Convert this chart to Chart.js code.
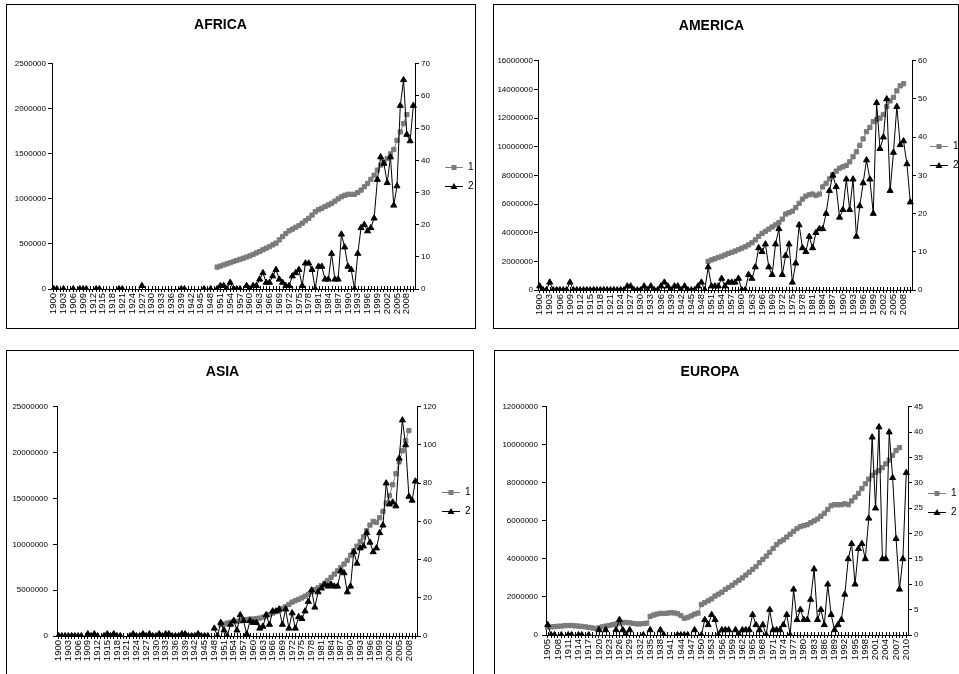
<!DOCTYPE html>
<html>
<head>
<meta charset="utf-8">
<script src="https://cdn.jsdelivr.net/npm/chart.js@4.4.1/dist/chart.umd.min.js"></script>
<style>
  body { margin: 0; width: 959px; height: 674px; overflow: hidden; background: #fff; position: relative; }
  .panel { position: absolute; border: 1px solid #000; background: #fff; }
  .panel canvas { display: block; }
</style>
</head>
<body>
<div class="panel" style="left:6px;top:4px;width:468px;height:323px"><canvas id="africa" width="468" height="323"></canvas></div>
<div class="panel" style="left:493px;top:4px;width:464px;height:323px"><canvas id="america" width="464" height="323"></canvas></div>
<div class="panel" style="left:6px;top:350px;width:466px;height:330px"><canvas id="asia" width="466" height="323"></canvas></div>
<div class="panel" style="left:494px;top:350px;width:466px;height:330px"><canvas id="europa" width="466" height="323"></canvas></div>
<script>
const FONT = "'Liberation Sans', Arial, sans-serif";
const GRAY = '#7b7b7b';

function yearsFrom(a, b) {
  const out = [];
  for (let y = a; y <= b; y++) out.push(String(y));
  return out;
}
// put a series that starts at `start` onto the year axis
function alignTo(years, start, values) {
  return years.map(y => {
    const i = +y - start;
    return i >= 0 && i < values.length ? values[i] : null;
  });
}

// ---- AFRICA ----
const africaYears = yearsFrom(1900, 2010);
const africaS1 = [ // 1950-2008
  243000, 255000, 267000, 280000, 292000, 305000, 317000, 330000, 342000, 355000,
  368000, 384000, 400000, 416000, 435000, 453000, 470000, 490000, 509000, 545000,
  582000, 615000, 645000, 665000, 685000, 703000, 730000, 758000, 785000, 820000,
  858000, 880000, 896000, 915000, 933000, 951000, 975000, 1000000, 1024000, 1040000,
  1051000, 1051000, 1051000, 1070000, 1098000, 1135000, 1172000, 1218000, 1264000, 1320000,
  1375000, 1412000, 1449000, 1500000, 1549000, 1650000, 1743000, 1836000, 1936000
];
const africaS2 = [ // 1900-2010
  0, 0, null, 0, null, null, 0, null, 0, 0,
  0, null, null, 0, 0, null, null, null, null, null,
  0, 0, null, null, null, null, null, 1, null, null,
  null, null, null, null, null, null, null, null, null, 0,
  0, null, null, null, null, null, 0, null, 0, null,
  0, 1, 1, 0, 2, 0, 0, 0, null, 1,
  0, 1, 1, 3, 5, 2, 2, 4, 6, 3,
  2, 1, 1, 4, 5, 6, 1, 8, 8, 6,
  0, 7, 7, 3, 3, 11, 3, 3, 17, 13,
  7, 6, 0, 11, 19, 20, 18, 19, 22, 34,
  41, 39, 33, 41, 26, 32, 57, 65, 48, 46,
  57
];

// ---- AMERICA ----
const americaYears = yearsFrom(1900, 2010);
const americaS1 = [ // 1950-2008
  2000000, 2100000, 2180000, 2270000, 2350000, 2450000, 2550000, 2630000, 2720000, 2820000,
  2920000, 3020000, 3150000, 3300000, 3500000, 3750000, 3950000, 4100000, 4250000, 4400000,
  4550000, 4700000, 4950000, 5300000, 5400000, 5500000, 5750000, 6050000, 6350000, 6550000,
  6650000, 6700000, 6600000, 6700000, 7200000, 7450000, 7750000, 8050000, 8300000, 8500000,
  8600000, 8700000, 8950000, 9300000, 9650000, 10100000, 10550000, 11050000, 11350000, 11750000,
  11900000, 12000000, 12250000, 12800000, 13200000, 13450000, 13900000, 14250000, 14400000
];
const americaS2 = [ // 1900-2010
  1, 0, 0, 2, 0, 0, 0, 0, 0, 2,
  0, 0, 0, 0, 0, 0, 0, 0, 0, 0,
  0, 0, 0, 0, 0, 0, 1, 1, 0, 0,
  0, 1, 0, 1, 0, 0, 1, 2, 1, 0,
  1, 1, 0, 1, 0, 0, 0, 1, 2, 0,
  6, 1, 1, 1, 3, 1, 2, 2, 2, 3,
  0, 0, 4, 3, 6, 11, 10, 12, 6, 4,
  12, 16, 4, 9, 12, 2, 7, 17, 11, 10,
  14, 11, 15, 16, 16, 20, 26, 30, 27, 19,
  21, 29, 21, 29, 14, 22, 28, 34, 29, 20,
  49, 37, 40, 50, 26, 36, 48, 38, 39, 33,
  23
];

// ---- ASIA ----
const asiaYears = yearsFrom(1900, 2010);
const asiaS1 = [ // 1950-2008
  1250000, 1300000, 1400000, 1500000, 1550000, 1600000, 1650000, 1750000, 1800000, 1850000,
  1850000, 1900000, 1950000, 2050000, 2200000, 2350000, 2500000, 2650000, 2800000, 3000000,
  3200000, 3450000, 3700000, 3850000, 4000000, 4150000, 4350000, 4550000, 4800000, 5050000,
  5250000, 5500000, 5750000, 6050000, 6400000, 6750000, 7100000, 7450000, 7850000, 8250000,
  8800000, 9300000, 9800000, 10300000, 10800000, 11500000, 12100000, 12500000, 12400000, 12900000,
  13600000, 14500000, 15300000, 16500000, 17700000, 19000000, 20200000, 21300000, 22400000
];
const asiaS2 = [ // 1900-2010
  0, 0, 0, 0, 0, 0, 0, 0, null, 1,
  0, 1, 0, null, 0, 1, 0, 1, 0, 0,
  null, null, 0, 1, 0, 0, 1, 0, 1, 0,
  0, 1, 0, 1, 1, 0, 0, 0, 1, 1,
  0, 0, 0, 1, 0, 0, 0, null, 4, 0,
  7, 3, 0, 6, 8, 3, 11, 8, 1, 8,
  7, 7, 4, 5, 11, 6, 13, 13, 14, 6,
  14, 4, 12, 4, 10, 9, 13, 18, 24, 15,
  23, 25, 27, 26, 27, 26, 26, 34, 33, 23,
  26, 44, 38, 46, 47, 54, 49, 44, 46, 54,
  58, 80, 69, 70, 68, 93, 113, 100, 73, 71,
  81
];

// ---- EUROPA ----
const europaYears = yearsFrom(1905, 2010);
const europaS1 = [ // 1905-2008
  420000, 430000, 440000, 460000, 470000,
  490000, 500000, 500000, 480000, 470000, 450000, 430000, 400000, 370000, 340000,
  380000, 430000, 470000, 500000, 540000, 580000, 620000, 650000, 660000, 640000,
  610000, 580000, 580000, 600000, 620000, 980000, 1050000, 1100000, 1140000, 1130000,
  1150000, 1170000, 1160000, 1120000, 1020000, 880000, 930000, 1000000, 1100000, 1150000,
  1600000, 1700000, 1800000, 1900000, 2050000, 2150000, 2250000, 2400000, 2500000, 2620000,
  2750000, 2880000, 3000000, 3150000, 3300000, 3450000, 3600000, 3800000, 3980000, 4150000,
  4350000, 4550000, 4750000, 4900000, 5000000, 5150000, 5300000, 5450000, 5600000, 5700000,
  5750000, 5800000, 5900000, 6000000, 6100000, 6250000, 6400000, 6600000, 6800000, 6850000,
  6850000, 6850000, 6900000, 6850000, 7050000, 7250000, 7450000, 7700000, 7950000, 8200000,
  8400000, 8550000, 8650000, 8800000, 9000000, 9200000, 9450000, 9700000, 9850000
];
const europaS2 = [ // 1905-2010
  2, 0, 0, null, 0,
  null, 0, 0, null, 0, 0, null, 0, null, null,
  1, null, 1, null, null, 1, 3, 1, 0, 1,
  null, null, null, 0, null, 1, null, null, 1, 0,
  null, null, null, 0, 0, 0, 0, null, 1, null,
  0, 3, 2, 4, 3, 0, 1, 1, 1, null,
  1, 0, 1, 1, 1, 4, 2, 1, 2, 0,
  5, 1, 1, 1, 2, 4, 0, 9, 3, 5,
  3, 3, 7, 13, 3, 5, 2, 10, 4, 1,
  2, 3, 8, 15, 18, 10, 17, 18, 15, 23,
  39, 25, 41, 15, 15, 40, 31, 19, 9, 15,
  32
];

// small inner tick marks on the category axis
const innerTicks = {
  id: 'innerTicks',
  afterDatasetsDraw(chart) {
    const s = chart.scales.x, ctx = chart.ctx;
    ctx.save();
    ctx.strokeStyle = '#000';
    ctx.lineWidth = 1;
    ctx.beginPath();
    s.ticks.forEach((t, i) => {
      const x = Math.round(s.getPixelForTick(i)) + 0.5;
      ctx.moveTo(x, s.top - 3);
      ctx.lineTo(x, s.top);
    });
    ctx.stroke();
    ctx.restore();
  }
};

// legend: fixed place, symbol drawn as a short line with the marker on it
const legendMarks = {
  id: 'legendMarks',
  afterLayout(chart, args, opts) {
    const lg = chart.legend, pad = lg.options.labels.padding, h = lg.height;
    lg.left = opts.x - pad;
    lg.width = 44;
    lg.right = lg.left + lg.width;
    lg.top = opts.y - pad - 5;
    lg.bottom = lg.top + h;
  },
  afterDraw(chart) {
    const ctx = chart.ctx, lg = chart.legend;
    lg.legendHitBoxes.forEach((box, i) => {
      const ds = chart.data.datasets[lg.legendItems[i].datasetIndex];
      const y = Math.round(box.top + box.height / 2) + 0.5;
      const x0 = box.left, x1 = box.left + 18, xc = (x0 + x1) / 2;
      ctx.save();
      ctx.strokeStyle = ds.borderColor;
      ctx.lineWidth = 1;
      ctx.beginPath();
      ctx.moveTo(x0, y);
      ctx.lineTo(x1, y);
      ctx.stroke();
      ctx.fillStyle = ds.backgroundColor;
      ctx.beginPath();
      if (ds.pointStyle === 'rect') {
        ctx.rect(xc - 2.5, y - 2.5, 5, 5);
      } else {
        ctx.moveTo(xc, y - 3.5);
        ctx.lineTo(xc + 3.5, y + 2.5);
        ctx.lineTo(xc - 3.5, y + 2.5);
        ctx.closePath();
      }
      ctx.fill();
      ctx.restore();
    });
  }
};

function makeChart(id, c) {
  new Chart(document.getElementById(id), {
    type: 'line',
    data: {
      labels: c.years,
      datasets: [
        {
          label: '1', data: c.s1, yAxisID: 'y', order: 2,
          borderColor: GRAY, backgroundColor: GRAY, borderWidth: 1,
          pointStyle: 'rect', pointRadius: 3, pointBorderWidth: 1
        },
        {
          label: '2', data: c.s2, yAxisID: 'y1', order: 1,
          borderColor: '#000', backgroundColor: '#000', borderWidth: 1,
          pointStyle: 'triangle', pointRadius: 3.5, pointBorderWidth: 1
        }
      ]
    },
    options: {
      responsive: false,
      animation: false,
      devicePixelRatio: 1,
      layout: { padding: { left: 0, top: 0, right: c.padRight, bottom: 0 } },
      plugins: {
        title: {
          display: true, text: c.title, color: '#000',
          font: { family: FONT, size: 14, weight: 'bold' },
          padding: { top: c.titleTop, bottom: c.titleBottom }
        },
        legend: {
          position: 'right',
          align: 'start',
          fullSize: false,
          maxWidth: 1,
          labels: {
            boxWidth: 18, boxHeight: 0, padding: 9, color: '#000', textAlign: 'left',
            font: { family: FONT, size: 10 },
            generateLabels(chart) {
              return Chart.defaults.plugins.legend.labels.generateLabels(chart)
                .sort((a, b) => a.datasetIndex - b.datasetIndex)
                .map(l => Object.assign(l, { lineWidth: 0, fillStyle: 'rgba(0,0,0,0)' }));
            }
          }
        },
        legendMarks: { x: c.legendX, y: c.legendY },
        tooltip: { enabled: false }
      },
      scales: {
        x: {
          offset: true,
          afterFit: s => { s.height = c.xHeight; },
          grid: { drawOnChartArea: false, tickLength: 3, color: '#000' },
          border: { color: '#000' },
          ticks: {
            autoSkip: false, minRotation: 90, maxRotation: 90, padding: 1,
            color: '#000', font: { family: FONT, size: 9.5 },
            callback: function (v, i) { return i % 3 === 0 ? this.getLabelForValue(v) : ''; }
          }
        },
        y: {
          position: 'left', min: 0, max: c.yMax,
          afterFit: s => { s.width = c.yWidth; },
          grid: { drawOnChartArea: false, tickLength: 4, color: '#000' },
          border: { color: '#000' },
          ticks: {
            stepSize: c.yStep, padding: c.yPad, color: '#000',
            font: { family: FONT, size: 8 },
            callback: v => String(v)
          }
        },
        y1: {
          position: 'right', min: 0, max: c.y1Max,
          afterFit: s => { s.width = c.y1Width; },
          grid: { drawOnChartArea: false, tickLength: 4, color: '#000' },
          border: { color: '#000' },
          ticks: {
            stepSize: c.y1Step, padding: 2, color: '#000',
            font: { family: FONT, size: 8 },
            callback: v => String(v)
          }
        }
      }
    },
    plugins: [innerTicks, legendMarks]
  });
}

makeChart('africa', {
  title: 'AFRICA', years: africaYears,
  s1: alignTo(africaYears, 1950, africaS1), s2: africaS2,
  yMax: 2500000, yStep: 500000, y1Max: 70, y1Step: 10,
  yWidth: 45, yPad: 2, y1Width: 18, padRight: 41,
  xHeight: 39, titleTop: 12, titleBottom: 30,
  legendX: 438, legendY: 162
});
makeChart('america', {
  title: 'AMERICA', years: americaYears,
  s1: alignTo(americaYears, 1950, americaS1), s2: americaS2,
  yMax: 16000000, yStep: 2000000, y1Max: 60, y1Step: 10,
  yWidth: 44, yPad: 1, y1Width: 16, padRight: 29,
  xHeight: 38, titleTop: 13, titleBottom: 26,
  legendX: 436, legendY: 141
});
makeChart('asia', {
  title: 'ASIA', years: asiaYears,
  s1: alignTo(asiaYears, 1950, asiaS1), s2: asiaS2,
  yMax: 25000000, yStep: 5000000, y1Max: 120, y1Step: 20,
  yWidth: 50, yPad: 5, y1Width: 20, padRight: 35,
  xHeight: 38, titleTop: 13, titleBottom: 26,
  legendX: 435, legendY: 141
});
makeChart('europa', {
  title: 'EUROPA', years: europaYears,
  s1: alignTo(europaYears, 1905, europaS1), s2: europaS2,
  yMax: 12000000, yStep: 2000000, y1Max: 45, y1Step: 5,
  yWidth: 51, yPad: 4, y1Width: 16, padRight: 36,
  xHeight: 39, titleTop: 13, titleBottom: 26,
  legendX: 433, legendY: 142
});
</script>
</body>
</html>
